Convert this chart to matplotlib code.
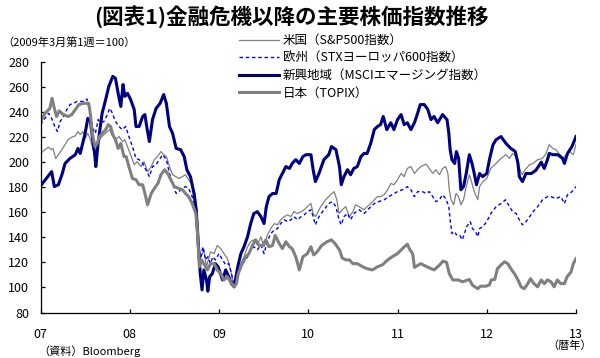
import matplotlib
matplotlib.use('Agg')
import matplotlib.pyplot as plt

plt.rcParams['font.family'] = ['Noto Sans CJK JP', 'DejaVu Sans']

# 2009年3月第1週＝100 (x: 年, 小数)
us_t = [2007.0, 2007.05, 2007.09, 2007.12, 2007.14, 2007.17, 2007.20, 2007.24, 2007.275, 2007.31, 2007.35, 2007.39,
        2007.42, 2007.445, 2007.475, 2007.50, 2007.53, 2007.56, 2007.585, 2007.61, 2007.635, 2007.67, 2007.71, 2007.75,
        2007.775, 2007.80, 2007.84, 2007.88, 2007.92, 2007.945, 2007.975,
        2008.01, 2008.05, 2008.085, 2008.125, 2008.16, 2008.20, 2008.24, 2008.275, 2008.31, 2008.35, 2008.38, 2008.41,
        2008.445, 2008.48, 2008.55, 2008.59, 2008.625, 2008.66, 2008.70, 2008.73, 2008.75, 2008.77, 2008.78, 2008.80,
        2008.83, 2008.86, 2008.88, 2008.905, 2008.945, 2008.98,
        2009.02, 2009.055, 2009.095, 2009.13, 2009.17, 2009.21, 2009.245, 2009.28, 2009.32, 2009.355, 2009.39, 2009.43,
        2009.47, 2009.505, 2009.54, 2009.58, 2009.62, 2009.655, 2009.69, 2009.73, 2009.77, 2009.805, 2009.84, 2009.88,
        2009.92, 2009.955, 2009.99,
        2010.03, 2010.055, 2010.08, 2010.14, 2010.195, 2010.25, 2010.29, 2010.32, 2010.345, 2010.38, 2010.42, 2010.46,
        2010.50, 2010.53, 2010.57, 2010.625, 2010.66, 2010.70, 2010.74, 2010.775, 2010.81, 2010.85, 2010.89, 2010.925,
        2010.96,
        2011.0, 2011.04, 2011.075, 2011.11, 2011.15, 2011.19, 2011.225, 2011.26, 2011.32, 2011.355, 2011.395, 2011.43,
        2011.47, 2011.505, 2011.54, 2011.565, 2011.58, 2011.60, 2011.63, 2011.655, 2011.685, 2011.71, 2011.74, 2011.77,
        2011.805, 2011.835, 2011.86, 2011.90, 2011.92, 2011.955,
        2012.0, 2012.045, 2012.105, 2012.16, 2012.215, 2012.255, 2012.29, 2012.33, 2012.36, 2012.395, 2012.43, 2012.48,
        2012.52, 2012.57, 2012.625, 2012.665, 2012.70, 2012.74, 2012.775, 2012.81, 2012.86, 2012.89, 2012.93, 2012.97,
        2013.0]
us_v = [207, 210, 212, 210, 211, 203, 206, 210, 214, 218, 220, 221,
        224.5, 222, 224.5, 219, 223, 218, 211, 207, 212.5, 219, 222, 224.5,
        226, 222, 218, 220.5, 216.5, 218, 212.5,
        206, 198, 200.5, 196.5, 200.5, 192.5, 196.5, 202, 204.5, 208.5, 206, 204.5,
        196.5, 190, 187, 188.5, 190, 186, 182, 175, 162, 146, 130, 124.5,
        130, 116.5, 122, 128.5, 127, 133.5,
        131, 127, 123, 114, 100.5, 111, 119, 124.5, 132.5, 136.5, 138, 134,
        140.5, 132.5, 141.5, 147, 151, 150, 154, 156.5, 158, 156.5, 160.5, 159,
        160.5, 162, 164.5,
        167, 159, 156.5, 164.5, 170, 174, 176.5, 170, 159, 162, 164.5, 156.5,
        160.5, 166, 164.5, 162, 164.5, 167, 170, 172.5, 172.5, 174, 178, 183,
        182,
        186, 191, 188.5, 195, 196.5, 191, 194, 196.5, 198.5, 195, 191, 194,
        190, 195, 196.5, 191, 178, 170, 166, 175, 172.5, 166, 170, 180.5,
        190, 183, 176.5, 170, 180.5, 184.5,
        187, 195, 199, 203, 206, 203, 207, 204.5, 196.5, 190, 194, 198,
        199, 202, 203, 207, 214, 211, 210, 207, 203, 206, 208.5, 206,
        214]

eu_t = [2007.0, 2007.04, 2007.09, 2007.125, 2007.16, 2007.19, 2007.22, 2007.26, 2007.295, 2007.33, 2007.37, 2007.41,
        2007.445, 2007.48, 2007.52, 2007.56, 2007.585, 2007.615, 2007.645, 2007.67, 2007.71, 2007.75, 2007.775, 2007.80,
        2007.84, 2007.88, 2007.915, 2007.955, 2007.99,
        2008.03, 2008.07, 2008.105, 2008.145, 2008.18, 2008.22, 2008.255, 2008.295, 2008.33, 2008.37, 2008.41, 2008.445,
        2008.48, 2008.52, 2008.55, 2008.59, 2008.625, 2008.66, 2008.70, 2008.74, 2008.757, 2008.775, 2008.79, 2008.82,
        2008.85, 2008.875, 2008.905, 2008.93, 2008.96,
        2009.0, 2009.04, 2009.075, 2009.11, 2009.14, 2009.17, 2009.21, 2009.245, 2009.28, 2009.32, 2009.355, 2009.39,
        2009.43, 2009.47, 2009.505, 2009.54, 2009.58, 2009.62, 2009.655, 2009.69, 2009.73, 2009.77, 2009.805, 2009.84,
        2009.88, 2009.92, 2009.955, 2009.99,
        2010.03, 2010.055, 2010.08, 2010.12, 2010.175, 2010.23, 2010.27, 2010.31, 2010.345, 2010.37, 2010.40, 2010.44,
        2010.475, 2010.51, 2010.57, 2010.625, 2010.68, 2010.74, 2010.79, 2010.85, 2010.905, 2010.96,
        2011.0, 2011.055, 2011.11, 2011.15, 2011.19, 2011.225, 2011.28, 2011.32, 2011.355, 2011.395, 2011.43, 2011.47,
        2011.505, 2011.54, 2011.575, 2011.59, 2011.61, 2011.64, 2011.66, 2011.695, 2011.725, 2011.75, 2011.775, 2011.815,
        2011.84, 2011.875, 2011.90, 2011.92, 2011.955,
        2012.0, 2012.045, 2012.105, 2012.16, 2012.21, 2012.255, 2012.29, 2012.33, 2012.365, 2012.40, 2012.44, 2012.48,
        2012.52, 2012.57, 2012.625, 2012.68, 2012.72, 2012.775, 2012.83, 2012.87, 2012.905, 2012.955, 2013.0]
eu_v = [230, 234, 239, 235, 228.5, 224.5, 232.5, 236.5, 242, 246, 247, 248.5,
        248.5, 248.5, 250.5, 239, 227, 223, 234, 231.5, 232.5, 238, 243, 240,
        232.5, 228.5, 226, 228.5, 220.5,
        212.5, 203, 202, 199, 194, 188.5, 196.5, 198, 202, 206, 202, 191,
        183, 175, 176.5, 179, 180.5, 179, 172.5, 162, 146, 130, 122, 132.5,
        122, 124.5, 119, 124.5, 122,
        127, 122, 118, 119, 111, 100.5, 109.5, 116.5, 120.5, 124.5, 130, 132.5,
        130, 134, 127, 136.5, 143, 146, 147, 151, 154, 152.5, 154, 156.5,
        154, 156.5, 158, 160.5,
        162, 156.5, 150, 156.5, 162, 167, 168.5, 164.5, 154, 150, 156.5, 159,
        154, 159, 162, 159, 163, 167, 168.5, 170, 172.5, 175,
        176.5, 178, 180.5, 178, 172.5, 176.5, 176.5, 175, 176.5, 172.5, 168.5, 170,
        174, 171, 164.5, 154, 143, 144.5, 142, 142, 138, 143, 148.5, 152.5,
        147, 144.5, 140.5, 147, 148.5,
        152.5, 159, 164.5, 167, 170, 164.5, 160.5, 159, 154, 150, 152.5, 156.5,
        160.5, 164.5, 170, 172.5, 172.5, 171, 172.5, 167, 174, 176.5, 180.5]

em_t = [2007.0, 2007.125, 2007.155, 2007.20, 2007.24, 2007.275, 2007.33, 2007.39, 2007.42, 2007.445, 2007.50, 2007.53,
        2007.56, 2007.585, 2007.61, 2007.62, 2007.645, 2007.69, 2007.73, 2007.765, 2007.81, 2007.84, 2007.87, 2007.90,
        2007.925, 2007.945, 2007.975,
        2008.01, 2008.05, 2008.07, 2008.105, 2008.145, 2008.17, 2008.19, 2008.22, 2008.255, 2008.295, 2008.34, 2008.38,
        2008.41, 2008.445, 2008.48, 2008.52, 2008.57, 2008.61, 2008.64, 2008.68, 2008.72, 2008.745, 2008.76, 2008.775,
        2008.79, 2008.81, 2008.83, 2008.86, 2008.875, 2008.895, 2008.925, 2008.96, 2008.99,
        2009.04, 2009.075, 2009.11, 2009.14, 2009.17, 2009.21, 2009.245, 2009.28, 2009.32, 2009.355, 2009.39, 2009.43,
        2009.47, 2009.505, 2009.53, 2009.56, 2009.60, 2009.64, 2009.675, 2009.71, 2009.75, 2009.79, 2009.82, 2009.86,
        2009.90, 2009.94, 2009.975,
        2010.03, 2010.055, 2010.08, 2010.12, 2010.175, 2010.23, 2010.26, 2010.31, 2010.35, 2010.37, 2010.40, 2010.44,
        2010.475, 2010.51, 2010.55, 2010.59, 2010.625, 2010.66, 2010.70, 2010.74, 2010.775, 2010.81, 2010.84, 2010.88,
        2010.925, 2010.96,
        2011.0, 2011.04, 2011.075, 2011.11, 2011.15, 2011.19, 2011.225, 2011.255, 2011.30, 2011.34, 2011.375, 2011.41,
        2011.45, 2011.505, 2011.555, 2011.575, 2011.59, 2011.61, 2011.64, 2011.66, 2011.685, 2011.71, 2011.74, 2011.77,
        2011.805, 2011.835, 2011.86, 2011.885, 2011.92, 2011.955,
        2012.0, 2012.03, 2012.07, 2012.105, 2012.16, 2012.215, 2012.27, 2012.32, 2012.35, 2012.365, 2012.40, 2012.44,
        2012.50, 2012.55, 2012.61, 2012.645, 2012.68, 2012.70, 2012.74, 2012.795, 2012.85, 2012.87, 2012.905, 2012.955,
        2013.0]
em_v = [181, 192.5, 180.5, 182, 190, 199, 203, 206, 211, 207, 223, 235,
        232.5, 218, 204.5, 196.5, 215, 239, 250, 260.5, 268.5, 267, 255, 244.5,
        262, 252.5, 255,
        250, 242, 228.5, 228.5, 236.5, 238, 228.5, 216.5, 234, 243, 247, 254,
        247, 228.5, 223, 211, 210, 204.5, 194, 188.5, 175, 162, 143, 127,
        111, 98, 114, 106, 97, 108.5, 111, 119, 116.5,
        106, 114, 108.5, 103, 100.5, 116.5, 127, 132.5, 140.5, 151, 159, 160.5,
        156.5, 151, 164.5, 172.5, 175, 175, 186, 191, 196.5, 195, 199, 202,
        199, 204.5, 206,
        206, 194, 184.5, 191, 202, 206, 212.5, 210, 196.5, 182, 188.5, 194,
        190, 195, 196.5, 204.5, 207, 207, 215, 226, 228.5, 230, 236.5, 226,
        231.5, 226,
        234, 238, 230, 231.5, 226, 231.5, 239, 246, 246, 242, 234, 236.5,
        231.5, 238, 234, 223, 210, 202, 199, 208.5, 203, 178, 180.5, 191,
        206, 199, 191, 182, 191, 188.5,
        191, 202, 214, 218, 220.5, 215, 211, 208.5, 199, 188.5, 184.5, 191,
        191, 193.5, 200, 195, 202, 207, 206, 206, 203, 199, 207, 212.5,
        220.5]

jp_t = [2007.0, 2007.05, 2007.105, 2007.13, 2007.155, 2007.18, 2007.21, 2007.255, 2007.31, 2007.35, 2007.39, 2007.43,
        2007.48, 2007.54, 2007.56, 2007.58, 2007.61, 2007.635, 2007.66, 2007.69, 2007.73, 2007.76, 2007.785, 2007.81,
        2007.84, 2007.87, 2007.90, 2007.935, 2007.96, 2007.99,
        2008.03, 2008.07, 2008.105, 2008.145, 2008.17, 2008.20, 2008.24, 2008.275, 2008.315, 2008.35, 2008.39, 2008.425,
        2008.46, 2008.50, 2008.55, 2008.59, 2008.625, 2008.66, 2008.70, 2008.74, 2008.757, 2008.77, 2008.78, 2008.805,
        2008.83, 2008.87, 2008.905, 2008.945, 2008.98,
        2009.02, 2009.055, 2009.095, 2009.13, 2009.17, 2009.195, 2009.215, 2009.26, 2009.30, 2009.335, 2009.375, 2009.41,
        2009.45, 2009.49, 2009.525, 2009.56, 2009.60, 2009.63, 2009.675, 2009.71, 2009.75, 2009.79, 2009.82, 2009.86,
        2009.90, 2009.94, 2009.99,
        2010.03, 2010.06, 2010.10, 2010.15, 2010.21, 2010.26, 2010.30, 2010.35, 2010.38, 2010.42, 2010.46, 2010.50,
        2010.55, 2010.61, 2010.66, 2010.72, 2010.775, 2010.83, 2010.89, 2010.94,
        2011.0, 2011.055, 2011.11, 2011.14, 2011.17, 2011.19, 2011.26, 2011.33, 2011.41, 2011.47, 2011.51, 2011.55,
        2011.58, 2011.62, 2011.68, 2011.73, 2011.805, 2011.84, 2011.90, 2011.93, 2011.99,
        2012.03, 2012.05, 2012.09, 2012.12, 2012.16, 2012.20, 2012.235, 2012.27, 2012.31, 2012.35, 2012.385, 2012.42,
        2012.46, 2012.49, 2012.53, 2012.57, 2012.61, 2012.645, 2012.68, 2012.72, 2012.755, 2012.79, 2012.83, 2012.87,
        2012.90, 2012.945, 2012.97, 2013.0]
jp_v = [232.5, 239, 243, 251, 243, 236.5, 241, 238, 236.5, 238, 242, 246,
        247, 247, 238, 223, 212.5, 215, 220.5, 223, 226, 230, 228.5, 222,
        218, 211, 215, 204.5, 204.5, 196.5,
        187, 186, 182, 182, 175, 166, 175, 179, 183, 190, 194, 191,
        186, 180.5, 179, 178, 175, 172.5, 167, 159, 146, 130, 116.5, 122,
        119, 114, 119, 119, 114,
        111, 106, 108.5, 104.5, 100.5, 103, 111, 119, 124.5, 127, 133.5, 138,
        133.5, 133.5, 138, 132.5, 133.5, 141.5, 135, 131, 136.5, 132.5, 131, 124.5,
        114, 124.5, 127,
        132.5, 126, 128.5, 133.5, 136.5, 138, 135, 130, 123.5, 122, 122, 119,
        119, 116.5, 115, 114, 116.5, 118, 122, 124.5,
        127, 131, 134.5, 130, 127, 116, 119, 116.5, 114, 117.8, 121, 120,
        111, 106, 106, 104.5, 106.4, 101.8, 99, 101, 101,
        102, 106, 106.4, 115, 118, 120.5, 119, 115, 111, 106, 100.5, 99,
        103, 107, 103, 100.5, 106, 103, 106, 104.5, 100.5, 106, 103, 103,
        108.5, 112.5, 119, 123]

for t, v in [(us_t, us_v), (eu_t, eu_v), (em_t, em_v), (jp_t, jp_v)]:
    assert len(t) == len(v), (len(t), len(v))

labels = ['米国（S&P500指数）', '欧州（STXヨーロッパ600指数）',
          '新興地域（MSCIエマージング指数）', '日本（TOPIX）']
years = [2007, 2008, 2009, 2010, 2011, 2012, 2013]
year_labels = ['07', '08', '09', '10', '11', '12', '13']

fig = plt.figure(figsize=(6, 3.58), dpi=100)
ax = fig.add_axes([40.5 / 600, 1 - 312.5 / 358, 535.5 / 600, 250.5 / 358])

l1, = ax.plot(us_t, us_v, color='#808080', lw=0.9)
l2, = ax.plot(eu_t, eu_v, color='#0000ff', lw=1.0, linestyle=(0, (2.5, 2)))
l3, = ax.plot(em_t, em_v, color='#000080', lw=2.2)
l4, = ax.plot(jp_t, jp_v, color='#808080', lw=2.2)

ax.set_xlim(2007, 2013)
ax.set_ylim(80, 280)
ax.set_yticks(range(80, 281, 20))
ax.set_xticks(years)
ax.set_xticklabels(year_labels)
for s in ['top', 'right']:
    ax.spines[s].set_visible(False)
for s in ['left', 'bottom']:
    ax.spines[s].set_linewidth(0.9)
ax.tick_params(direction='in', length=3, width=0.9, labelsize=9)
ax.tick_params(axis='y', pad=8)
ax.tick_params(axis='x', pad=11)

fig.legend([l1, l2, l3, l4], labels, loc='upper left', bbox_to_anchor=(233 / 600, 1 - 28 / 358),
           frameon=False, fontsize=9, handlelength=3.2, handletextpad=0.3, labelspacing=0.36, borderpad=0)

fig.text(0.485, 1 - 17 / 358, '(図表1)金融危機以降の主要株価指数推移', ha='center', va='center',
         fontsize=15.5, fontweight='bold')
fig.text(2 / 600, 1 - 42 / 358, '（2009年3月第1週＝100）', ha='left', va='center', fontsize=8)
fig.text(38 / 600, 1 - 351 / 358, '（資料）Bloomberg', ha='left', va='center', fontsize=8)
fig.text(592 / 600, 1 - 346 / 358, '（暦年）', ha='right', va='center', fontsize=8)

fig.savefig('out.png', dpi=100)
